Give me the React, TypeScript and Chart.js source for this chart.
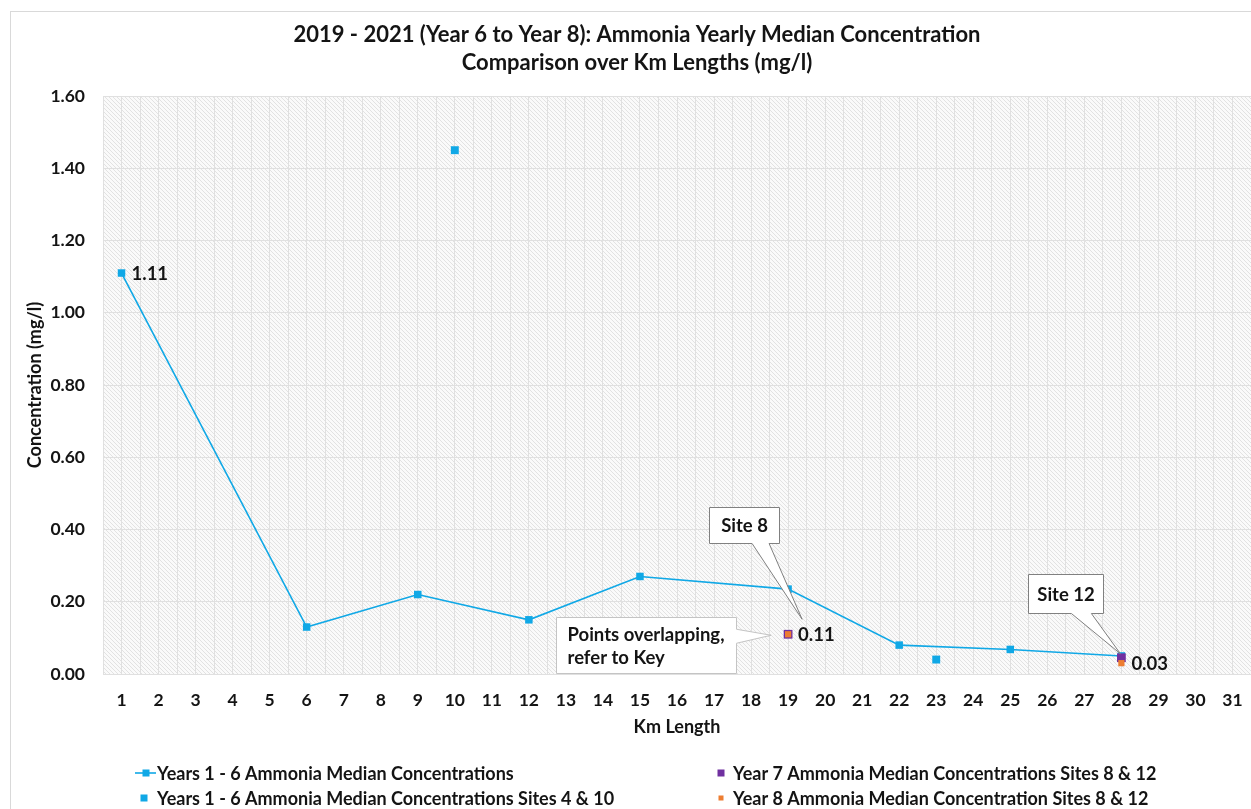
import React, { useEffect, useRef } from 'react';
import { Chart, registerables } from 'chart.js';

Chart.register(...registerables);

// ---------- data ----------
const kmLabels = [1, 2, 3, 4, 5, 6, 7, 8, 9, 10, 11, 12, 13, 14, 15, 16, 17, 18, 19, 20, 21, 22, 23, 24, 25, 26, 27, 28, 29, 30, 31];
const kmMain = [1, 6, 9, 12, 15, 19, 22, 25, 28];
const ammoniaMain = [1.11, 0.13, 0.22, 0.15, 0.27, 0.235, 0.08, 0.068, 0.05];
const kmSites4and10 = [10, 23];
const ammoniaSites4and10 = [1.45, 0.04];
const kmSites8and12 = [19, 28];
const year7Values = [0.11, 0.045];
const year8Values = [0.11, 0.03];
const yTickValues = [0, 0.2, 0.4, 0.6, 0.8, 1.0, 1.2, 1.4, 1.6];

const seriesNames = [
  'Years 1 - 6 Ammonia Median Concentrations',
  'Years 1 - 6 Ammonia Median Concentrations Sites 4 & 10',
  'Year 7 Ammonia Median Concentrations Sites 8 & 12',
  'Year 8 Ammonia Median Concentration Sites 8 & 12',
];
const titleLines = [
  '2019 - 2021 (Year 6 to Year 8): Ammonia Yearly Median Concentration',
  'Comparison over Km Lengths (mg/l)',
];
// which points carry a value label: [datasetIndex, pointIndex]
const labelledPoints: [number, number][] = [[0, 0], [3, 0], [3, 1]];

// ---------- styles ----------
const FONT = "Lato, 'Open Sans', 'Liberation Sans', sans-serif";
const BLUE = '#10A8E6';
const PURPLE = '#7030A0';
const ORANGE = '#ED7D31';
const TEXT = '#141414';
const GRID = '#e0e0e0';

const xy = (xs: number[], ys: number[]) => xs.map((x, i) => ({ x, y: ys[i] }));

function makePattern(ctx: CanvasRenderingContext2D) {
  const c = document.createElement('canvas');
  c.width = 4;
  c.height = 4;
  const pc = c.getContext('2d')!;
  const img = pc.createImageData(4, 4);
  for (let y = 0; y < 4; y++) {
    for (let x = 0; x < 4; x++) {
      const on = ((x - y + 8) % 4) === 0;
      const v = on ? 226 : 250;
      const k = (y * 4 + x) * 4;
      img.data[k] = v;
      img.data[k + 1] = v;
      img.data[k + 2] = v;
      img.data[k + 3] = 255;
    }
  }
  pc.putImageData(img, 0, 0);
  return ctx.createPattern(c, 'repeat');
}

type Callout = {
  lines: string[];
  ds: number;
  idx: number;
  box: [number, number, number, number]; // relative left, top, width, height
  side: 'bottom' | 'right';
  base: [number, number];
  tip: [number, number];
  border: string;
  align: 'center' | 'left';
};

const callouts: Callout[] = [
  { lines: ['Site 8'], ds: 3, idx: 0, box: [-79, -127, 70, 36], side: 'bottom', base: [-36, -19], tip: [14, -15], border: '#808080', align: 'center' },
  { lines: ['Site 12'], ds: 2, idx: 1, box: [-93, -84, 75, 39], side: 'bottom', base: [-50, -30], tip: [-1, -4], border: '#808080', align: 'center' },
  { lines: ['Points overlapping,', 'refer to Key'], ds: 3, idx: 0, box: [-232, -17, 180, 56], side: 'right', base: [-5, 9], tip: [-17, 1], border: '#c4c4c4', align: 'left' },
];

const decorPlugin = {
  id: 'decor',
  beforeDraw(chart: any) {
    const { ctx, chartArea, width, height } = chart;
    ctx.save();
    ctx.fillStyle = '#ffffff';
    ctx.fillRect(0, 0, width, height);
    ctx.strokeStyle = '#d9d9d9';
    ctx.lineWidth = 1;
    ctx.strokeRect(10.5, 11.5, width + 20, height + 20);
    const pat = makePattern(ctx);
    if (pat) {
      ctx.fillStyle = pat;
      ctx.fillRect(chartArea.left, chartArea.top, chartArea.right - chartArea.left, chartArea.bottom - chartArea.top);
    }
    // title
    ctx.fillStyle = TEXT;
    ctx.font = `bold 22px ${FONT}`;
    ctx.textAlign = 'center';
    ctx.textBaseline = 'middle';
    ctx.fillText(titleLines[0], 637, 35);
    ctx.fillText(titleLines[1], 637, 63);
    ctx.restore();
  },
  afterDatasetsDraw(chart: any) {
    const { ctx } = chart;
    ctx.save();
    // callouts
    for (const c of callouts) {
      const el = chart.getDatasetMeta(c.ds).data[c.idx];
      const px = el.x;
      const py = el.y;
      const l = Math.round(px + c.box[0]) + 0.5;
      const t = Math.round(py + c.box[1]) + 0.5;
      const r = l + c.box[2];
      const b = t + c.box[3];
      const tx = px + c.tip[0];
      const ty = py + c.tip[1];
      ctx.beginPath();
      ctx.moveTo(l, t);
      ctx.lineTo(r, t);
      if (c.side === 'right') {
        ctx.lineTo(r, py + c.base[0]);
        ctx.lineTo(tx, ty);
        ctx.lineTo(r, py + c.base[1]);
        ctx.lineTo(r, b);
        ctx.lineTo(l, b);
      } else {
        ctx.lineTo(r, b);
        ctx.lineTo(px + c.base[1], b);
        ctx.lineTo(tx, ty);
        ctx.lineTo(px + c.base[0], b);
        ctx.lineTo(l, b);
      }
      ctx.closePath();
      ctx.fillStyle = '#ffffff';
      ctx.fill();
      ctx.strokeStyle = c.border;
      ctx.lineWidth = 1;
      ctx.stroke();
      ctx.fillStyle = TEXT;
      ctx.font = `bold 18.5px ${FONT}`;
      ctx.textBaseline = 'middle';
      if (c.align === 'center') {
        ctx.textAlign = 'center';
        ctx.fillText(c.lines[0], (l + r) / 2, (t + b) / 2 + 1);
      } else {
        ctx.textAlign = 'left';
        c.lines.forEach((s, i) => ctx.fillText(s, l + 11, t + 18 + i * 23));
      }
    }
    // value labels
    ctx.font = `bold 18.5px ${FONT}`;
    ctx.textAlign = 'left';
    ctx.textBaseline = 'middle';
    ctx.fillStyle = TEXT;
    for (const [d, i] of labelledPoints) {
      const el = chart.getDatasetMeta(d).data[i];
      const v = chart.data.datasets[d].data[i].y as number;
      ctx.fillText(v.toFixed(2), el.x + 10, el.y + 1);
    }
    ctx.restore();
  },
  afterDraw(chart: any) {
    const { ctx } = chart;
    ctx.save();
    ctx.font = `bold 18px ${FONT}`;
    ctx.textBaseline = 'middle';
    ctx.textAlign = 'left';
    // legend entries: [datasetIndex, markerCenterX, textX, y, markerSize]
    const entries: [number, number, number, number, number][] = [
      [0, 146, 157, 773, 7],
      [2, 721, 733, 773, 7],
      [1, 144, 157, 798, 7],
      [3, 721, 733, 798, 5],
    ];
    for (const [d, mx, tx, y0, sz] of entries) {
      const ds = chart.data.datasets[d];
      const color = ds.backgroundColor;
      if (d === 0) {
        ctx.strokeStyle = color;
        ctx.lineWidth = 1.6;
        ctx.beginPath();
        ctx.moveTo(mx - 11, y0);
        ctx.lineTo(mx + 10, y0);
        ctx.stroke();
      }
      ctx.fillStyle = color;
      ctx.fillRect(mx - sz / 2, y0 - sz / 2, sz, sz);
      ctx.fillStyle = TEXT;
      ctx.fillText(seriesNames[d], tx, y0 + 1);
    }
    ctx.restore();
  },
};

const zeroPadding = (s: any) => {
  s.paddingLeft = 0;
  s.paddingRight = 0;
  s.getPadding = () => ({ left: 0, right: 0, top: 0, bottom: 0 });
};

export default function App() {
  const ref = useRef<HTMLCanvasElement | null>(null);
  useEffect(() => {
    if (!ref.current) return;
    const tickFont = { family: FONT, size: 17.5, weight: 'bold' as const };
    const titleFont = { family: FONT, size: 18, weight: 'bold' as const };
    const chart = new Chart(ref.current, {
      type: 'scatter',
      data: {
        datasets: [
          {
            label: seriesNames[0],
            type: 'line',
            data: xy(kmMain, ammoniaMain),
            borderColor: BLUE,
            backgroundColor: BLUE,
            borderWidth: 1.6,
            pointStyle: 'rect',
            pointRadius: 5.3,
            pointBorderWidth: 0,
            pointBackgroundColor: BLUE,
            fill: false,
            tension: 0,
            order: 3,
          } as any,
          {
            label: seriesNames[1],
            data: xy(kmSites4and10, ammoniaSites4and10),
            backgroundColor: BLUE,
            borderColor: BLUE,
            pointStyle: 'rect',
            pointRadius: 5.6,
            pointBorderWidth: 0,
            order: 2,
          },
          {
            label: seriesNames[2],
            data: xy(kmSites8and12, year7Values),
            backgroundColor: PURPLE,
            borderColor: PURPLE,
            pointStyle: 'rect',
            pointRadius: 6.2,
            pointBorderWidth: 0,
            order: 1,
          },
          {
            label: seriesNames[3],
            data: xy(kmSites8and12, year8Values),
            backgroundColor: ORANGE,
            borderColor: ORANGE,
            pointStyle: 'rect',
            pointRadius: 4.4,
            pointBorderWidth: 0,
            order: 0,
          },
        ],
      },
      options: {
        responsive: false,
        animation: false,
        events: [],
        layout: { autoPadding: false, padding: { left: 10, right: 0, top: 96, bottom: 69 } },
        plugins: {
          legend: { display: false },
          title: { display: false },
          tooltip: { enabled: false },
        },
        scales: {
          x: {
            type: 'linear',
            min: 0.5,
            max: 31.5,
            border: { display: false },
            grid: { color: GRID, lineWidth: 1, drawTicks: true, tickLength: 16, tickColor: 'rgba(0,0,0,0)' },
            ticks: {
              stepSize: 0.5,
              autoSkip: false,
              maxRotation: 0,
              padding: 0,
              color: TEXT,
              font: tickFont,
              callback: (v: any) => (kmLabels.includes(Number(v)) ? String(v) : ''),
            },
            title: { display: true, text: 'Km Length', color: TEXT, font: titleFont, padding: { top: 0, bottom: 2 } },
            afterFit: (s: any) => {
              s.height = 66;
              zeroPadding(s);
            },
          },
          y: {
            min: yTickValues[0],
            max: yTickValues[yTickValues.length - 1],
            border: { display: false },
            grid: { color: GRID, lineWidth: 1, drawTicks: false },
            ticks: {
              stepSize: 0.2,
              padding: 18,
              color: TEXT,
              font: tickFont,
              callback: (v: any) => Number(v).toFixed(2),
            },
            afterBuildTicks: (s: any) => {
              s.ticks = yTickValues.map((value) => ({ value }));
            },
            title: { display: true, text: 'Concentration (mg/l)', color: TEXT, font: titleFont, padding: { top: 14, bottom: 0 } },
            afterFit: (s: any) => {
              s.width = 93;
              s.getPadding = () => ({ left: 0, right: 0, top: 0, bottom: 0 });
            },
          },
        },
      },
      plugins: [decorPlugin],
    });
    return () => chart.destroy();
  }, []);
  return (
    <div style={{ position: 'absolute', left: 0, top: 0, width: 1251, height: 809 }}>
      <canvas ref={ref} width={1251} height={809} style={{ display: 'block' }} />
    </div>
  );
}
